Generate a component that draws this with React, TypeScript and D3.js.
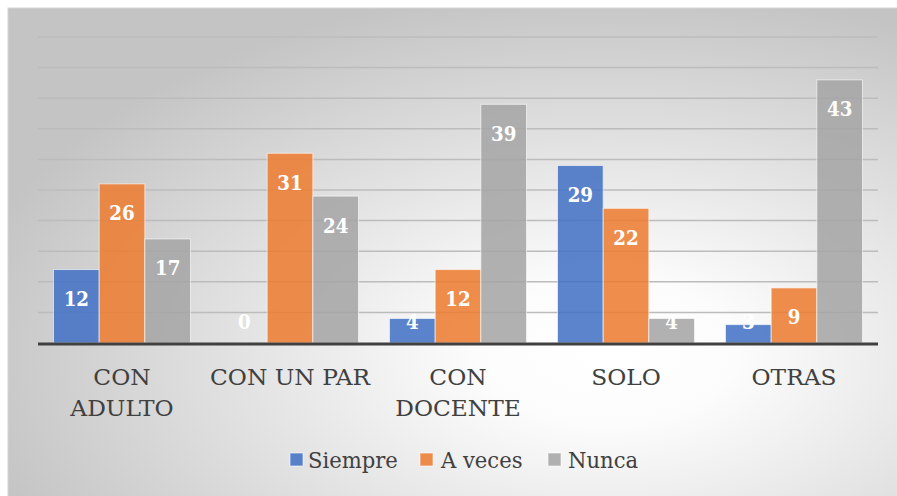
import React from "react";
import * as d3 from "d3";

const categories = [["CON", "ADULTO"], ["CON UN PAR"], ["CON", "DOCENTE"], ["SOLO"], ["OTRAS"]];
const seriesNames = ["Siempre", "A veces", "Nunca"];
const siempre = [12, 0, 4, 29, 3];
const aveces = [26, 31, 12, 22, 9];
const nunca = [17, 24, 39, 4, 43];
const yTicks = [0, 5, 10, 15, 20, 25, 30, 35, 40, 45, 50];

const colors = ["#4472C4", "#ED7D31", "#A5A5A5"];
const seriesValues = [siempre, aveces, nunca];

export default function App() {
  const W = 897, H = 496;
  const catKeys = categories.map((c) => c.join(" "));
  const x0 = d3.scaleBand<string>().domain(catKeys).range([38, 878]);
  const x1 = d3.scaleBand<string>().domain(seriesNames).range([15.5, x0.bandwidth() - 15.5]);
  const y = d3.scaleLinear().domain([0, 50]).range([343, 37]);
  const sx = 0.96;
  const sxc = 1.06;
  const sxb = 0.87;
  const textColor = "#404040";
  const font = "'DejaVu Serif', 'Liberation Serif', serif";

  const legendPos = [
    { sq: 290, tx: 308 },
    { sq: 420, tx: 441 },
    { sq: 548, tx: 568 },
  ];

  return (
    <svg width={W} height={H} style={{ position: "absolute", left: 0, top: 0 }}>
      <defs>
        <radialGradient id="bg" cx="0.66" cy="0.68" r="0.72" fx="0.66" fy="0.68">
          <stop offset="0" stopColor="#ffffff" />
          <stop offset="0.2" stopColor="#fcfcfc" />
          <stop offset="1" stopColor="#c4c4c4" />
        </radialGradient>
      </defs>
      <rect x={0} y={0} width={W} height={H} fill="#ffffff" />
      <rect x={8} y={8} width={W + 10} height={H + 10} fill="url(#bg)" stroke="#d4d4d4" strokeWidth={1} />
      {yTicks.slice(1).map((t) => (
        <line key={t} x1={38} x2={878} y1={y(t)} y2={y(t)} stroke="#bcbcbc" strokeWidth={1.5} />
      ))}
      {catKeys.map((ck, ci) =>
        seriesNames.map((s, si) => {
          const v = seriesValues[si][ci];
          const bx = (x0(ck) as number) + (x1(s) as number);
          const bw = x1.bandwidth();
          const top = y(v);
          const center = Math.min(top + 29, 321);
          return (
            <g key={ck + s}>
              {v > 0 && (
                <rect x={bx} y={top} width={bw} height={y(0) - top} fill={colors[si]} fillOpacity={0.87}
                  stroke="#ffffff" strokeOpacity={0.6} strokeWidth={1} />
              )}
              <text transform={`translate(${bx + bw / 2},${center + 7.5}) scale(${sxb},1)`} textAnchor="middle"
                fill="#ffffff" fontWeight="bold" fontSize={21} fontFamily={font}>{v}</text>
            </g>
          );
        })
      )}
      <line x1={38} x2={878} y1={y(0) + 1} y2={y(0) + 1} stroke="#404040" strokeWidth={3} />
      {categories.map((lines, ci) => {
        const cx = (x0(catKeys[ci]) as number) + x0.bandwidth() / 2;
        return lines.map((ln, li) => (
          <text key={ci + "-" + li} transform={`translate(${cx},${385 + li * 31}) scale(${sxc},1)`}
            textAnchor="middle" fill={textColor} fontSize={22} fontFamily={font}>{ln}</text>
        ));
      })}
      {seriesNames.map((s, si) => (
        <g key={s}>
          <rect x={legendPos[si].sq} y={453} width={13} height={13} fill={colors[si]} fillOpacity={0.87}
            stroke="#ffffff" strokeOpacity={0.6} />
          <text transform={`translate(${legendPos[si].tx},${468}) scale(${sx},1)`} fill={textColor} fontSize={22}
            fontFamily={font}>{s}</text>
        </g>
      ))}
    </svg>
  );
}
